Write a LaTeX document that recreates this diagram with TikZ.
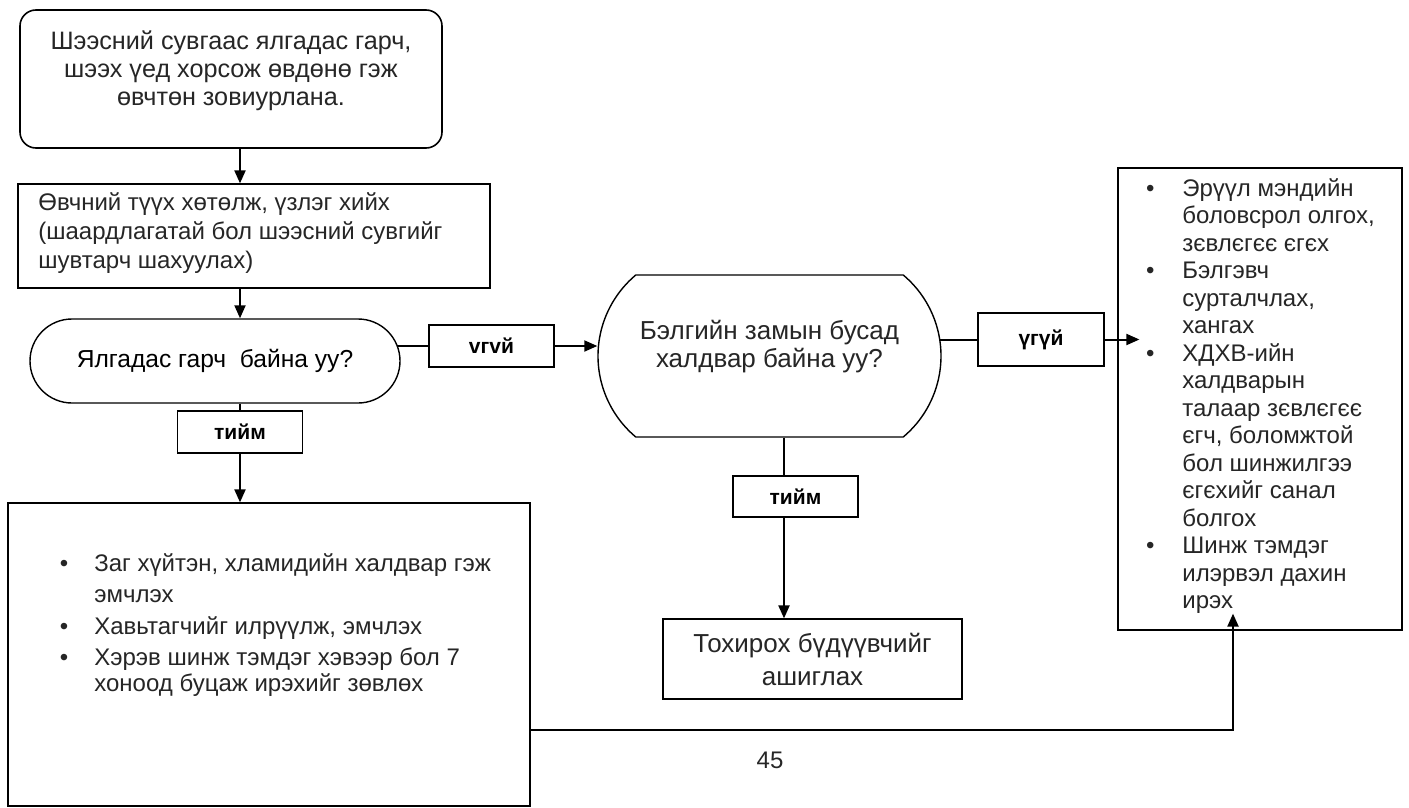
\documentclass[tikz,border=0pt]{standalone}
\usepackage{fontspec}
\setmainfont{Liberation Sans}
\usetikzlibrary{arrows.meta,shapes.misc,calc,backgrounds}

\tikzset{
  box/.style={draw, line width=0.6pt, fill=white, inner sep=0pt},
  tag/.style={box, minimum width=62.5pt, minimum height=21pt, font=\fontsize{10.5}{12}\selectfont\bfseries},
  query/.style={draw, line width=0.7pt, fill=white, rounded rectangle, inner sep=0pt, font=\fontsize{12.3}{14}\selectfont},
  txt/.style={inner sep=0pt, align=left, font=\fontsize{12}{14}\selectfont, text=black!85},
  conn/.style={line width=1pt},
  arr/.style={conn, -{Triangle[length=6.5pt,width=5.5pt]}},
}
\newcommand{\bul}[1][13pt]{\llap{\textbullet\hspace{#1}}}

\begin{document}
\begin{tikzpicture}[x=0.5pt, y=-0.5pt]
  \useasboundingbox (0,0) rectangle (1409,808);
  \coordinate (spine) at (240,0);
  \coordinate (drop) at (784,0);
  \coordinate (loop) at (1233,730);

  % Complaint and examination
  \node[box, rounded corners=8pt, line width=0.8pt, minimum width=211pt, minimum height=69pt] (complaint) at (231,79) {};
  \node[txt, align=center, anchor=north, font=\fontsize{12.6}{14}\selectfont] (complainttxt) at (231,30) {Шээсний сувгаас ялгадас гарч,\\шээх үед хорсож өвдөнө гэж\\өвчтөн зовиурлана.};
  \node[box, minimum width=236pt, minimum height=52pt] (history) at (254,236) {};
  \node[txt, anchor=north west, font=\fontsize{12}{14.5}\selectfont] (historytxt) at (38,192) {Өвчний түүх хөтөлж, үзлэг хийх\\(шаардлагатай бол шээсний сувгийг\\шувтарч шахуулах)};

  % Decisions
  \node[query, minimum width=185pt, minimum height=42pt] (dec1) at (215,361) {Ялгадас гарч\ \ байна уу?};
  \node[tag] (yes1) at (240,432) {тийм};
  \node[tag] (no1) at (491.5,346) {vгvй};
  \node[query, rounded rectangle arc length=100, minimum width=171.5pt, minimum height=81pt] (dec2) at (769.5,356) {};
  \node[txt, align=center, font=\fontsize{13}{14}\selectfont] (dec2txt) at (769.5,347) {Бэлгийн замын бусад\\халдвар байна уу?};
  \node[tag, minimum width=63pt, minimum height=26.5pt] (no2) at (1041,339.5) {үгүй};
  \node[tag, minimum height=20.5pt] (yes2) at (795.5,496.5) {тийм};

  % Outcomes
  \node[box, minimum width=142pt, minimum height=231pt] (advice) at (1260,399) {};
  \node[txt, anchor=north west, font=\fontsize{12}{13.75}\selectfont] (advicetxt) at (1182,178) {\bul[14pt]Эрүүл мэндийн\\боловсрол олгох,\\зєвлєгєє єгєх\\\bul[14pt]Бэлгэвч\\сурталчлах,\\хангах\\\bul[14pt]ХДХВ-ийн\\халдварын\\талаар зєвлєгєє\\єгч, боломжтой\\бол шинжилгээ\\єгєхийг санал\\болгох\\\bul[14pt]Шинж тэмдэг\\илэрвэл дахин\\ирэх};
  \node[box, minimum width=149.5pt, minimum height=40pt, align=center, font=\fontsize{13}{16.5}\selectfont, text=black!85] (device) at (812.5,659) {Тохирох бүдүүвчийг\\ашиглах};
  \node[box, minimum width=261pt, minimum height=151.5pt] (treat) at (269,654.5) {};
  \node[txt, anchor=north west, font=\fontsize{12}{13}\selectfont] (treattxt) at (94,553) {\bul Заг хүйтэн, хламидийн халдвар гэж\\[2.5pt]эмчлэх\\[3pt]\bul Хавьтагчийг илрүүлж, эмчлэх\\[2.5pt]\bul Хэрэв шинж тэмдэг хэвээр бол 7\\хоноод буцаж ирэхийг зөвлөх};
  \node[txt] (page) at (770,760) {45};

  % Connectors
  \draw[arr] (complaint.south -| spine) -- (history.north -| spine);
  \draw[arr] (history.south -| spine) -- (dec1.north -| spine);
  \draw[conn] (dec1.south -| yes1) -- (yes1.north);
  \draw[arr] (yes1.south) -- (yes1.south |- treat.north);
  \draw[arr] (no1.east) -- (no1.east -| dec2.west);
  \draw[arr] (no2.east) -- ($(no2.east -| advice.west)+(11pt,0)$);
  \draw[conn] (dec2.south -| drop) -- (yes2.north -| drop);
  \draw[arr] (yes2.south -| drop) -- (device.north -| drop);
  \draw[arr] (treat.east |- loop) -- (loop) -- ($(advice.south -| loop)+(0,8.5pt)$);
  \begin{scope}[on background layer]
    \draw[conn] (dec1.center |- no1.west) -- (no1.west);
    \draw[conn] (dec2.center |- no2.west) -- (no2.west);
  \end{scope}
\end{tikzpicture}
\end{document}
